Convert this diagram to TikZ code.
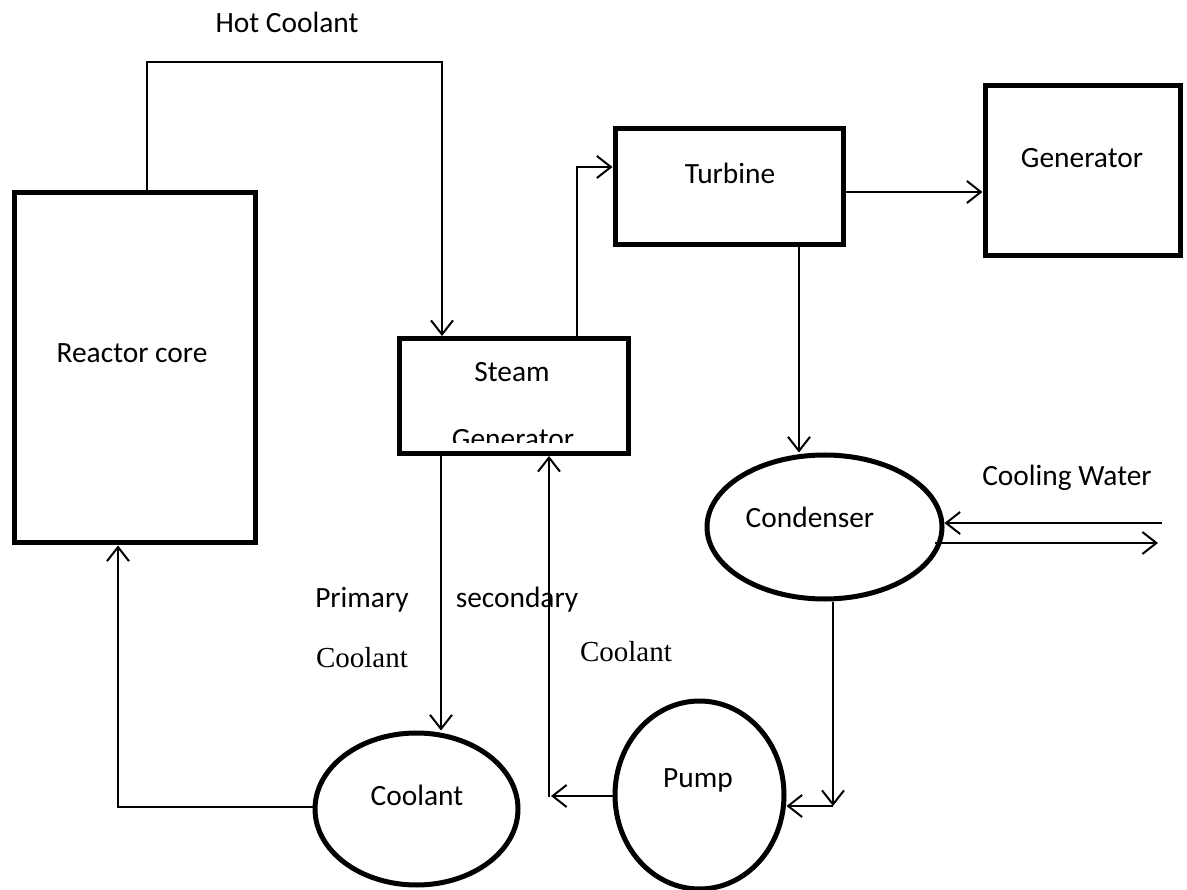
\documentclass[tikz,border=0pt]{standalone}
\usepackage{fontspec}
\setmainfont{Carlito}
\newfontfamily\tnr{Liberation Serif}
\usetikzlibrary{arrows.meta,shapes.geometric}
\tikzset{
  box/.style={draw, line width=5pt, rectangle, inner sep=0pt, fill=white},
  oval/.style={draw, line width=5pt, ellipse, inner sep=0pt, fill=white},
  txt/.style={inner sep=0pt, font=\fontsize{29.4}{35}\selectfont},
  stxt/.style={inner sep=0pt, font=\tnr\fontsize{29}{35}\selectfont},
  flow/.style={line width=2pt, -{Straight Barb[length=14pt,width=22pt,line width=2pt]}},
  wire/.style={line width=2pt}
}
\begin{document}
\begin{tikzpicture}[x=1pt,y=-1pt]
\useasboundingbox (0,0) rectangle (1187,890);
% blocks
\node[box, minimum width=241pt, minimum height=350pt] (core) at (134.5,368) {};
\node[box, minimum width=229pt, minimum height=115pt] (sg) at (513.5,396) {};
\node[box, minimum width=228pt, minimum height=116.5pt] (tb) at (729,186.75) {};
\node[box, minimum width=195.5pt, minimum height=169.5pt] (gen) at (1082.75,170.75) {};
\node[oval, minimum width=235pt, minimum height=144pt] (cd) at (824.5,527) {};
\node[oval, minimum width=203pt, minimum height=152pt] (co) at (416.5,809) {};
\node[oval, minimum width=169pt, minimum height=188pt] (pp) at (699.5,795) {};
% texts
\node[txt] (tHot) at (287,22) {Hot Coolant};
\node[txt] (tCore) at (132,353) {Reactor core};
\node[txt] (tSteam) at (512,372) {Steam};
\begin{scope}
  \clip (402,341) rectangle (625,443);
  \node[txt, anchor=base] (tSG) at (513,449) {Generator};
\end{scope}
\node[txt] (tTb) at (730,173) {Turbine};
\node[txt] (tGen) at (1082,158) {Generator};
\node[txt] (tCd) at (810,517) {Condenser};
\node[txt] (tCW) at (1067,478) {Cooling Water};
\node[txt] (tPri) at (362,600) {Primary};
\node[txt] (tSec) at (517,600) {secondary};
\node[stxt] (tC1) at (362,658) {Coolant};
\node[stxt] (tC2) at (626,652) {Coolant};
\node[txt] (tCo) at (417,795) {Coolant};
\node[txt] (tPp) at (698,780) {Pump};
% free coordinates
\coordinate (hcA) at (147,62);
\coordinate (hcB) at (442,62);
\coordinate (stA) at (577,167);
\coordinate (tgY) at (0,192);
\coordinate (tdX) at (799,0);
\coordinate (cwA) at (1162,523);
\coordinate (cwB) at (935,543);
\coordinate (cwC) at (1158,543);
\coordinate (cdX) at (833,806);
\coordinate (ppL) at (0,796);
\coordinate (scA) at (551,796);
\coordinate (scB) at (549,797);
\coordinate (pcX) at (441,0);
\coordinate (rcA) at (118,807);
% connectors
\draw[flow] (hcA |- core.north) -- (hcA) -- (hcB) -- (hcB |- sg.north);
\draw[flow] (sg.north -| stA) -- (stA) -- (tb.west |- stA);
\draw[flow] (tb.east |- tgY) -- (gen.west |- tgY);
\draw[flow] (tb.south -| tdX) -- (cd.north -| tdX);
\draw[flow] (cwA) -- (cd.east |- cwA);
\draw[flow] (cwB) -- (cwC);
\draw[flow] (cd.south -| cdX) -- (cdX);
\draw[flow] (cdX) -- (pp.east |- cdX);
\draw[flow] (pp.west |- ppL) -- (scA);
\draw[flow] (scB) -- (sg.south -| scB);
\draw[flow] (sg.south -| pcX) -- (co.north -| pcX);
\draw[flow] (co.west |- rcA) -- (rcA) -- (core.south -| rcA);
\end{tikzpicture}
\end{document}
